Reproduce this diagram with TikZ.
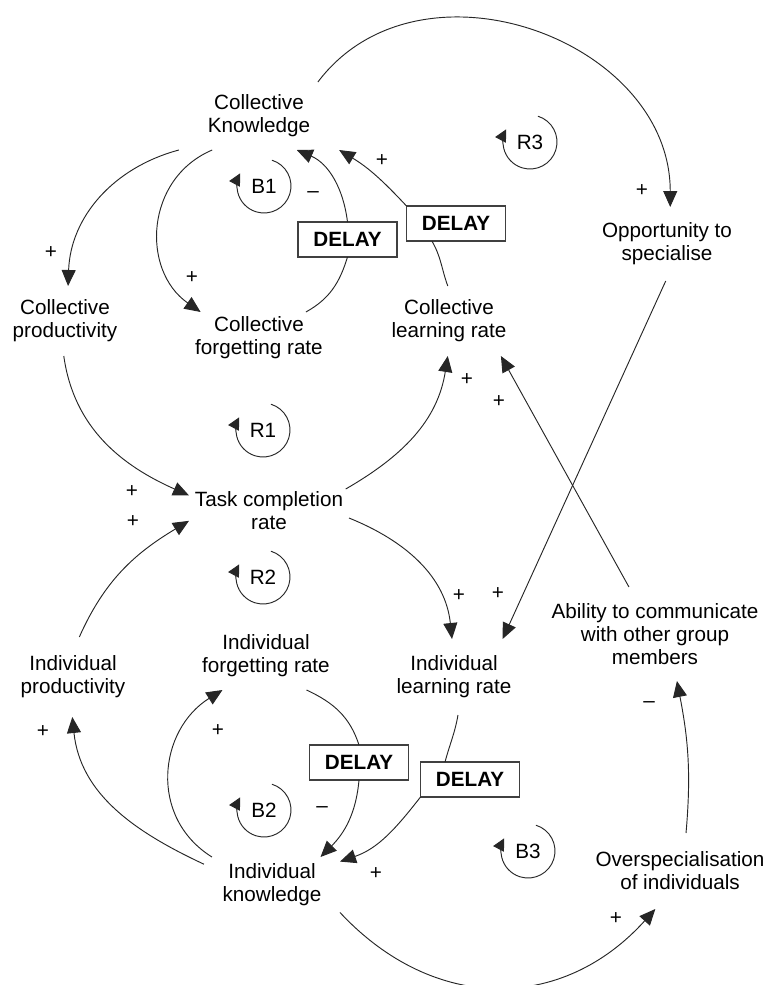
\documentclass[tikz,border=0pt]{standalone}
\usepackage{fontspec}
\setmainfont{Liberation Sans}
\usetikzlibrary{arrows.meta}
\newcommand{\varfont}{\fontsize{15.5pt}{17.25pt}\selectfont}
\begin{document}
\begin{tikzpicture}[x=0.75pt,y=0.75pt,
  var/.style={rectangle, inner sep=0pt, outer sep=0pt, align=center, font=\varfont},
  delaybox/.style={draw=black!75, line width=0.8pt, fill=white, minimum width=74.25pt,
    minimum height=26.25pt, inner sep=0pt, outer sep=0pt, font=\varfont\bfseries},
  link/.style={draw=black!85, line width=0.7pt, -{Triangle[length=12pt,width=10.5pt]}},
  plain/.style={draw=black!85, line width=0.7pt},
  sign/.style={font=\varfont, inner sep=0pt},
  looplabel/.style={font=\varfont, inner sep=0pt},
  loopmark/.style={draw=black!85, line width=0.7pt, -{Triangle[length=9pt,width=9pt]}},
]
\useasboundingbox (0,0) rectangle (767,-985);

% variables
\node[var, minimum width=126pt, minimum height=51pt]   (ck)    at (259,-116) {Collective\\Knowledge};
\node[var, minimum width=82.5pt, minimum height=52.5pt](cp)    at (65,-321)  {Collective\\productivity};
\node[var, minimum width=96pt, minimum height=39pt]    (cfr)   at (259,-338) {Collective\\forgetting rate};
\node[var, minimum width=84pt, minimum height=52.5pt]  (clr)   at (449,-321) {Collective\\learning rate};
\node[var, minimum width=99pt, minimum height=55.5pt]  (opp)   at (667,-244) {Opportunity to\\specialise};
\node[var, minimum width=120pt, minimum height=33pt]   (tcr)   at (269,-511) {Task completion\\rate};
\node[var, minimum width=84pt, minimum height=60pt]    (ip)    at (73,-677)  {Individual\\productivity};
\node[var, minimum width=96pt, minimum height=51pt]    (ifr)   at (266,-656) {Individual\\forgetting rate};
\node[var, minimum width=87pt, minimum height=57pt]    (ilr)   at (454,-677) {Individual\\learning rate};
\node[var, minimum width=156pt, minimum height=70.5pt] (acomm) at (655,-634) {Ability to communicate\\with other group\\members};
\node[var, minimum width=102pt, minimum height=42pt]   (ik)    at (272,-885) {Individual\\knowledge};
\node[var, minimum width=129pt, minimum height=57pt]   (os)    at (680,-871) {Overspecialisation\\of individuals};

% delay boxes
\node[delaybox] (d1) at (347.5,-239.5) {DELAY};
\node[delaybox] (d2) at (456,-223.5)   {DELAY};
\node[delaybox] (d3) at (359,-762.5)   {DELAY};
\node[delaybox] (d4) at (470,-779.5)   {DELAY};

% causal links
\draw[link]  (ck.203) to[out=195,in=88] (cp.85);
\draw[link]  (ck.216) to[out=203,in=145,looseness=1.15] (cfr.156);
\draw[plain] (cfr.29) to[out=29,in=253] (d1.south);
\draw[link]  (d1.north) to[out=97,in=337] (ck.318);
\draw[plain] (clr.92) to[out=110,in=300] (d2.216);
\draw[link]  (d2.north west) to[out=133,in=329] (ck.337);
\draw[link]  (ck.30) to[out=53,in=90,looseness=1.15] (opp.85);
\draw[link]  (cp.268) to[out=278,in=156] (tcr.169);
\draw[link]  (tcr.16) to[out=30,in=261] (clr.268);
\draw[link]  (tcr.355) to[out=-22,in=96] (ilr.93);
\draw[link]  (acomm.119) -- (clr.326);
\draw[link]  (opp.268) -- (ilr.38);
\draw[link]  (ip.81) to[out=66,in=211] (tcr.187);
\draw[link]  (ik.163) to[out=155,in=276] (ip.269);
\draw[link]  (ik.155) to[out=148,in=212,looseness=1.15] (ifr.218);
\draw[plain] (ifr.320) to[out=335,in=108] (d3.north);
\draw[link]  (d3.south) to[out=265,in=45] (ik.30);
\draw[plain] (ilr.276) to[out=260,in=75] (d4.145);
\draw[link]  (d4.south west) to[out=232,in=19] (ik.19);
\draw[link]  (ik.338) to[out=313,in=228,looseness=1.12] (os.237);
\draw[link]  (os.81) to[out=85,in=281] (acomm.295);

% polarities
\node[sign] (s1)  at (51,-253)  {+};
\node[sign] (s2)  at (192,-278) {+};
\node[sign] (s3)  at (313,-195) {\textendash};
\node[sign] (s4)  at (382,-161) {+};
\node[sign] (s5)  at (642,-191) {+};
\node[sign] (s6)  at (132,-492) {+};
\node[sign] (s7)  at (133,-522) {+};
\node[sign] (s8)  at (467,-380) {+};
\node[sign] (s9)  at (499,-402) {+};
\node[sign] (s10) at (459,-596) {+};
\node[sign] (s11) at (498,-594) {+};
\node[sign] (s12) at (649,-705) {\textendash};
\node[sign] (s13) at (43,-732)  {+};
\node[sign] (s14) at (218,-731) {+};
\node[sign] (s15) at (322,-810) {\textendash};
\node[sign] (s16) at (376,-874) {+};
\node[sign] (s17) at (616,-919) {+};

% loop identifiers
\foreach \nm/\lbl/\px/\py in {b1/B1/264/186, r3/R3/530/142, r1/R1/263/430,
                              r2/R2/263/577, b2/B2/264/810, b3/B3/528/851}{
  \node[looplabel] (\nm) at (\px,-\py) {\lbl};
  \draw[loopmark] ([shift={(73:27)}]\nm.center) arc[start angle=73,end angle=-208,radius=27];
}
\end{tikzpicture}
\end{document}
